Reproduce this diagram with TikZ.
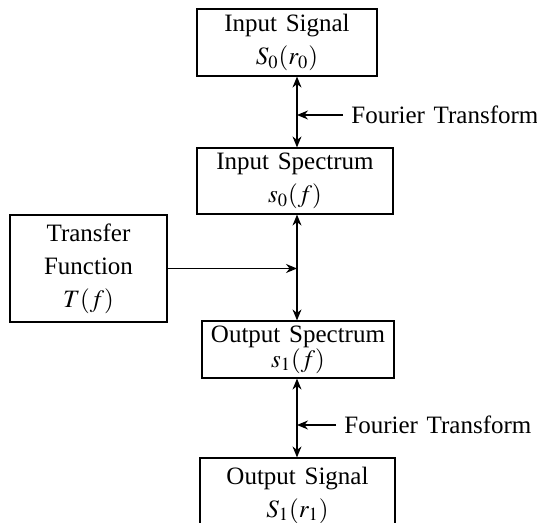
\documentclass[tikz,border=0pt]{standalone}
\usepackage{mathptmx}
\usepackage{fontspec}
\setmainfont{Liberation Serif}[WordSpace=1.4]
\usetikzlibrary{arrows.meta}
\begin{document}
\begin{tikzpicture}[>={Stealth[length=5.5pt,width=4.5pt,inset=1.8pt]},x=0.5pt,y=-0.5pt,
	blok/.style={draw,line width=0.6pt,align=center,inner sep=0pt,font=\fontsize{12.5}{16.5}\selectfont},
	ftlabel/.style={anchor=west,inner sep=4pt,font=\fontsize{12.5}{14}\selectfont}]
	\useasboundingbox (0,0) rectangle (537,523);
	\clip (0,0) rectangle (537,523);
	\coordinate (axis) at (297,0);
	\node[blok,minimum width=90pt,minimum height=33.5pt] (sig0) at (287,42.5) {Input Signal\\$S_0(r_0)$};
	\node[blok,minimum width=98pt,minimum height=33pt] (spec0) at (295,181) {Input Spectrum\\$s_0(f)$};
	\node[blok,minimum width=78.5pt,minimum height=53.5pt] (trans) at (88.5,268.5) {Transfer\\Function\\$T(f)$};
	\node[blok,minimum width=96pt,minimum height=28.5pt] (spec1) at (298,349.5) {Output Spectrum\\[-4pt]$s_1(f)$};
	\node[blok,minimum width=97.5pt,minimum height=37pt] (sig1) at (297.5,495) {Output Signal\\$S_1(r_1)$};
	\node[ftlabel] (ft0) at (343,115) {Fourier Transform};
	\node[ftlabel] (ft1) at (336,425) {Fourier Transform};
	\draw[<->,line width=0.6pt] (sig0.south -| axis) -- (spec0.north -| axis);
	\draw[<->,line width=0.6pt] (spec0.south -| axis) -- (spec1.north -| axis);
	\draw[<->,line width=0.6pt] (spec1.south -| axis) -- (sig1.north -| axis);
	\draw[->,line width=0.6pt] (ft0.west) -- (ft0.west -| axis);
	\draw[->,line width=0.6pt] (ft1.west) -- (ft1.west -| axis);
	\draw[->,line width=0.6pt] (trans.east) -- (trans.east -| axis);
\end{tikzpicture}
\end{document}
